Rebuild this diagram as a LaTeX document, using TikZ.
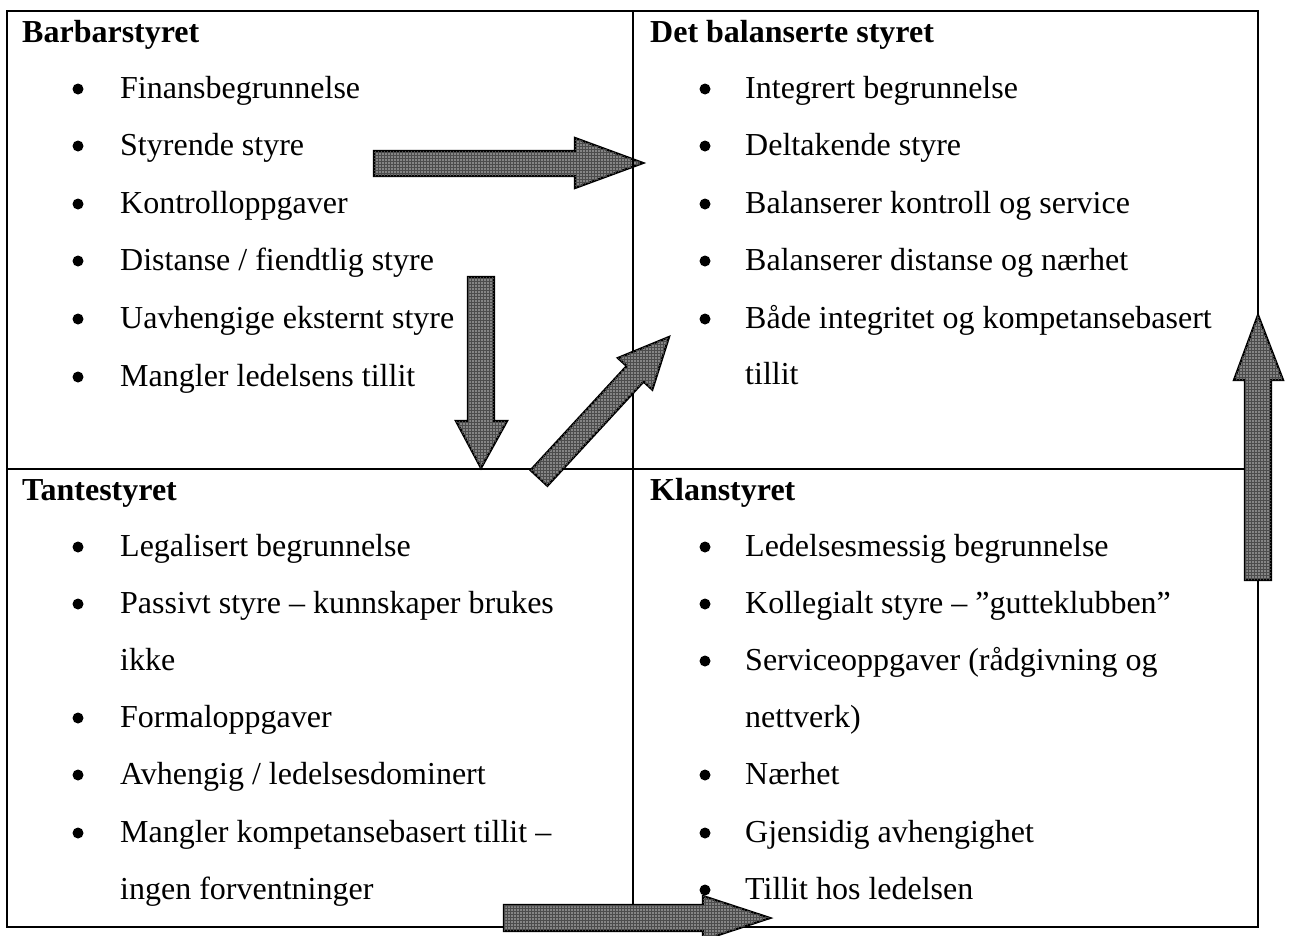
\documentclass[tikz,border=0pt]{standalone}
\usepackage{fontspec}
\setmainfont{Liberation Serif}
\usetikzlibrary{patterns}
\begin{document}
\begin{tikzpicture}[x=1pt,y=-1pt,
  font=\fontsize{32}{38}\selectfont,
  txt/.style={anchor=base west,inner sep=0pt},
  head/.style={anchor=base west,inner sep=0pt,font=\fontsize{32}{38}\selectfont\bfseries},
  bul/.style={circle,fill=black,inner sep=0pt,minimum size=11pt},
  grid line/.style={line width=1.6pt,black},
  blockarrow/.style={draw=black,line width=2.2pt,line join=miter,fill=black!48,
    postaction={pattern=grid,pattern color=black!70}}]
\useasboundingbox (0,0) rectangle (1292,935);
\clip (0,0) rectangle (1292,935);
% table
\coordinate (TL) at (7,11);
\coordinate (BR) at (1258,927);
\coordinate (MT) at (633,11);
\coordinate (MB) at (633,927);
\coordinate (ML) at (7,469);
\coordinate (MR) at (1258,469);
\draw[grid line] (TL) rectangle (BR);
\draw[grid line] (MT) -- (MB);
\draw[grid line] (ML) -- (MR);
% top left
\node[head] (h1) at (22,42) {Barbarstyret};
\node[bul] (b11) at (78,89) {}; \node[txt] (t11) at (120,98) {Finansbegrunnelse};
\node[bul] (b12) at (78,146) {}; \node[txt] (t12) at (120,155) {Styrende styre};
\node[bul] (b13) at (78,204) {}; \node[txt] (t13) at (120,213) {Kontrolloppgaver};
\node[bul] (b14) at (78,261) {}; \node[txt] (t14) at (120,270) {Distanse / fiendtlig styre};
\node[bul] (b15) at (78,319) {}; \node[txt] (t15) at (120,328) {Uavhengige eksternt styre};
\node[bul] (b16) at (78,377) {}; \node[txt] (t16) at (120,386) {Mangler ledelsens tillit};
% top right
\node[head] (h2) at (650,42) {Det balanserte styret};
\node[bul] (b21) at (705,89) {}; \node[txt] (t21) at (745,98) {Integrert begrunnelse};
\node[bul] (b22) at (705,146) {}; \node[txt] (t22) at (745,155) {Deltakende styre};
\node[bul] (b23) at (705,204) {}; \node[txt] (t23) at (745,213) {Balanserer kontroll og service};
\node[bul] (b24) at (705,261) {}; \node[txt] (t24) at (745,270) {Balanserer distanse og nærhet};
\node[bul] (b25) at (705,319) {}; \node[txt] (t25) at (745,328) {Både integritet og kompetansebasert};
\node[txt] (t25b) at (745,384) {tillit};
% bottom left
\node[head] (h3) at (22,500) {Tantestyret};
\node[bul] (b31) at (78,547) {}; \node[txt] (t31) at (120,556) {Legalisert begrunnelse};
\node[bul] (b32) at (78,604) {}; \node[txt] (t32) at (120,613) {Passivt styre – kunnskaper brukes};
\node[txt] (t32b) at (120,670) {ikke};
\node[bul] (b33) at (78,718) {}; \node[txt] (t33) at (120,727) {Formaloppgaver};
\node[bul] (b34) at (78,775) {}; \node[txt] (t34) at (120,784) {Avhengig / ledelsesdominert};
\node[bul] (b35) at (78,833) {}; \node[txt] (t35) at (120,842) {Mangler kompetansebasert tillit –};
\node[txt] (t35b) at (120,899) {ingen forventninger};
% bottom right
\node[head] (h4) at (650,500) {Klanstyret};
\node[bul] (b41) at (705,547) {}; \node[txt] (t41) at (745,556) {Ledelsesmessig begrunnelse};
\node[bul] (b42) at (705,604) {}; \node[txt] (t42) at (745,613) {Kollegialt styre – ”gutteklubben”};
\node[bul] (b43) at (705,661) {}; \node[txt] (t43) at (745,670) {Serviceoppgaver (rådgivning og};
\node[txt] (t43b) at (745,727) {nettverk)};
\node[bul] (b44) at (705,775) {}; \node[txt] (t44) at (745,784) {Nærhet};
\node[bul] (b45) at (705,833) {}; \node[txt] (t45) at (745,842) {Gjensidig avhengighet};
\node[txt] (t46) at (745,899) {Tillit hos ledelsen};
% arrows
\draw[blockarrow] (374,151) -- (575,151) -- (575,138) -- (643,163) -- (575,188) -- (575,176) -- (374,176) -- cycle;
\draw[blockarrow] (468,277) -- (494,277) -- (494,421) -- (507,421) -- (481,468) -- (456,421) -- (468,421) -- cycle;
\draw[blockarrow] (530.6,470.2) -- (626.7,366.0) -- (617.9,358.0) -- (669,337) -- (652.3,389.6) -- (643.5,381.6) -- (547.4,485.8) -- cycle;
\draw[blockarrow] (504,905) -- (703,905) -- (703,896) -- (770,918) -- (703,940) -- (703,931) -- (504,931) -- cycle;
\draw[blockarrow] (1245,580) -- (1245,380) -- (1234,380) -- (1258,315) -- (1283,380) -- (1271,380) -- (1271,580) -- cycle;
% cell line visible over the first arrow head
\draw[grid line] (MT) -- (633,230);
\node[bul] (b46) at (705,890) {};
\end{tikzpicture}
\end{document}
